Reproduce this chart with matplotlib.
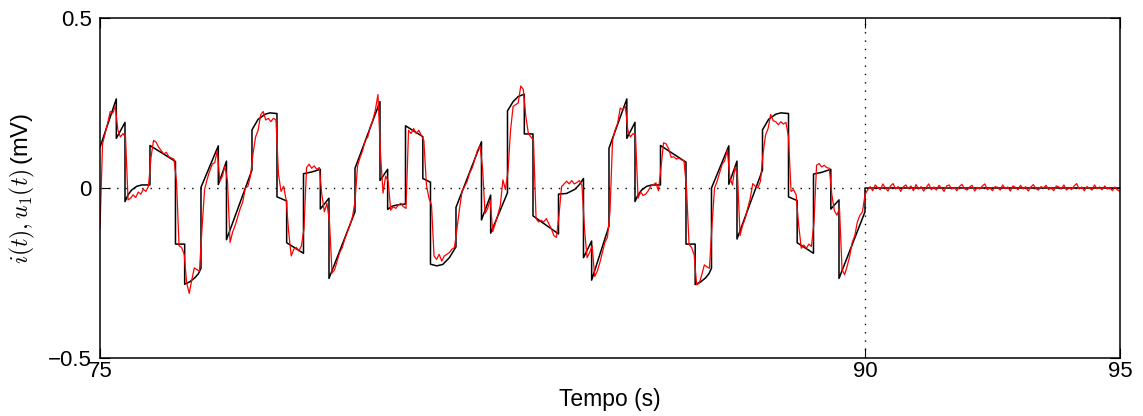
import numpy as np
import matplotlib
matplotlib.use('Agg')
import matplotlib.pyplot as plt

# u1(t): vertici della spezzata (tempo in s, valore in mV)
cmd_t = [75.00, 75.32, 75.32, 75.49, 75.49, 75.55, 75.62, 75.72, 75.82, 75.98,
         75.98, 76.48, 76.48, 76.66, 76.66, 76.76, 76.86, 76.93, 76.98, 76.98,
         77.32, 77.32, 77.48, 77.48, 77.98, 77.98, 78.10, 78.24, 78.33, 78.47,
         78.47, 78.66, 78.66, 78.99, 78.99, 79.15, 79.32, 79.32, 79.49, 79.49,
         80.00, 80.00, 80.49, 80.49, 80.64, 80.64, 80.72, 80.82, 80.99, 80.99,
         81.33, 81.33, 81.48, 81.48, 81.60, 81.72, 81.85, 81.98, 81.98, 82.48,
         82.48, 82.66, 82.66, 82.99, 82.99, 83.10, 83.20, 83.32, 83.32, 83.49,
         83.49, 83.99, 83.99, 84.15, 84.31, 84.40, 84.48, 84.48, 84.64, 84.64,
         84.98, 84.98, 85.33, 85.33, 85.49, 85.49, 85.55, 85.62, 85.72, 85.82,
         85.99, 85.99, 86.49, 86.49, 86.67, 86.67, 86.77, 86.87, 86.94, 86.99,
         86.99, 87.33, 87.33, 87.49, 87.49, 87.99, 87.99, 88.11, 88.25, 88.35,
         88.50, 88.50, 88.67, 88.67, 88.99, 88.99, 89.15, 89.33, 89.33, 89.49,
         89.49, 90.00, 90.00, 95.00]
cmd_v = [0.120, 0.262, 0.146, 0.193, -0.040, -0.020, -0.006, 0.005, 0.009, 0.009,
         0.125, 0.078, -0.165, -0.165, -0.283, -0.276, -0.264, -0.252, -0.236, 0.002,
         0.124, 0.010, 0.079, -0.152, 0.053, 0.171, 0.202, 0.217, 0.221, 0.219,
         -0.026, -0.038, -0.161, -0.192, 0.042, 0.047, 0.055, -0.062, -0.030, -0.266,
         -0.070, 0.058, 0.254, 0.022, 0.055, -0.063, -0.054, -0.050, -0.047, 0.183,
         0.151, 0.028, 0.017, -0.224, -0.229, -0.225, -0.205, -0.173, -0.057, 0.136,
         -0.094, -0.021, -0.133, -0.014, 0.227, 0.254, 0.269, 0.276, 0.159, 0.159,
         -0.082, -0.135, -0.018, -0.016, -0.004, 0.010, 0.028, -0.205, -0.156, -0.271,
         -0.112, 0.117, 0.262, 0.146, 0.193, -0.040, -0.020, -0.006, 0.005, 0.009,
         0.009, 0.125, 0.076, -0.165, -0.165, -0.284, -0.277, -0.265, -0.252, -0.236,
         0.000, 0.124, 0.011, 0.079, -0.150, 0.053, 0.171, 0.202, 0.217, 0.221,
         0.219, -0.026, -0.037, -0.161, -0.192, 0.041, 0.046, 0.055, -0.062, -0.035,
         -0.266, -0.070, 0.000, 0.000]

# i(t): campioni ogni 0.05 s a partire da 75 s
cur_start = 75.0
cur_step = 0.05
cur_v = [
    -0.120, 0.130, 0.160, 0.190, 0.225, 0.220, 0.240, 0.170, 0.150, 0.160,
    0.150, -0.035, -0.030, -0.020, -0.028, -0.012, -0.018, -0.004, -0.010, 0.005,
    0.090, 0.140, 0.135, 0.120, 0.110, 0.100, 0.105, 0.092, 0.088, 0.085,
    0.020, -0.170, -0.175, -0.195, -0.280, -0.310, -0.270, -0.235, -0.240, -0.245,
    -0.120, -0.005, 0.025, 0.050, 0.070, 0.075, 0.110, 0.020, 0.035, 0.065,
    0.020, -0.160, -0.130, -0.110, -0.085, -0.060, -0.040, 0.000, 0.005, 0.035,
    0.100, 0.150, 0.170, 0.215, 0.225, 0.200, 0.205, 0.195, 0.205, 0.200,
    0.040, -0.010, 0.005, -0.035, -0.130, -0.200, -0.180, -0.175, -0.185, -0.170,
    -0.120, 0.060, 0.070, 0.058, 0.065, 0.055, 0.060, -0.020, -0.070, -0.045,
    -0.100, -0.250, -0.240, -0.215, -0.190, -0.175, -0.150, -0.130, -0.110, -0.085,
    -0.040, 0.065, 0.090, 0.110, 0.140, 0.150, 0.180, 0.200, 0.230, 0.275,
    0.100, -0.015, 0.035, 0.020, -0.065, -0.055, -0.060, -0.050, -0.045, -0.055,
    -0.060, 0.170, 0.160, 0.175, 0.160, 0.170, 0.155, 0.140, 0.010, -0.030,
    -0.050, -0.200, -0.210, -0.195, -0.215, -0.200, -0.195, -0.190, -0.180, -0.175,
    -0.120, -0.060, -0.010, 0.005, 0.020, 0.045, 0.060, 0.085, 0.110, 0.125,
    0.060, -0.075, -0.060, -0.035, -0.128, -0.105, -0.080, -0.050, 0.024, -0.005,
    0.050, 0.170, 0.240, 0.245, 0.250, 0.300, 0.290, 0.210, 0.160, 0.150,
    0.140, -0.090, -0.100, -0.095, -0.100, -0.090, -0.105, -0.120, -0.140, -0.145,
    -0.080, 0.004, 0.012, 0.020, 0.012, 0.022, 0.012, 0.016, 0.022, 0.008,
    -0.120, -0.205, -0.190, -0.170, -0.260, -0.245, -0.220, -0.190, -0.160, -0.145,
    -0.070, 0.140, 0.170, 0.190, 0.235, 0.230, 0.240, 0.170, 0.150, 0.160,
    0.155, -0.030, -0.012, -0.022, -0.018, -0.008, 0.006, 0.010, 0.015, -0.008,
    0.060, 0.133, 0.130, 0.115, 0.090, 0.092, 0.085, 0.088, 0.083, 0.080,
    0.000, -0.166, -0.175, -0.197, -0.285, -0.280, -0.255, -0.226, -0.232, -0.236,
    -0.110, 0.000, 0.020, 0.045, 0.070, 0.080, 0.112, 0.030, 0.009, 0.060,
    0.040, -0.140, -0.110, -0.090, -0.060, -0.030, 0.013, 0.005, 0.000, 0.020,
    0.100, 0.156, 0.175, 0.216, 0.198, 0.195, 0.186, 0.195, 0.188, 0.193,
    0.150, -0.010, -0.005, -0.020, -0.110, -0.177, -0.168, -0.177, -0.165, -0.172,
    -0.100, 0.067, 0.072, 0.062, 0.067, 0.060, 0.058, -0.020, -0.067, -0.080,
    -0.060, -0.240, -0.255, -0.230, -0.200, -0.160, -0.140, -0.100, -0.080, -0.070,
    # da 90 s in poi: solo rumore
    -0.020, -0.006, 0.004, -0.008, 0.009, 0.001, -0.005, 0.012, 0.000, -0.009,
    0.006, 0.013, -0.003, 0.004, -0.010, 0.003, 0.009, -0.002, 0.006, -0.008,
    0.010, -0.003, 0.004, -0.009, 0.002, 0.012, -0.005, 0.003, -0.006, 0.008,
    0.000, -0.010, 0.006, 0.009, -0.003, 0.002, -0.008, 0.004, 0.011, -0.002,
    -0.006, 0.003, 0.008, -0.009, 0.002, -0.003, 0.006, 0.012, -0.005, 0.000,
    -0.008, 0.004, 0.002, -0.006, 0.009, -0.002, 0.003, -0.009, 0.006, 0.002,
    -0.005, 0.008, -0.003, 0.004, -0.009, 0.003, 0.010, -0.002, -0.006, 0.004,
    0.000, 0.008, -0.005, 0.002, -0.008, 0.006, 0.003, -0.003, 0.009, -0.006,
    0.002, -0.005, 0.006, 0.013, -0.003, 0.003, -0.008, 0.004, 0.000, -0.006,
    0.009, -0.002, 0.003, -0.005, 0.006, -0.003, 0.002, -0.008, 0.003, -0.006,
    -0.010]
cur_t = cur_start + cur_step * np.arange(len(cur_v))

x_ticks = [75, 90, 95]
y_ticks = [-0.5, 0, 0.5]
y_ticklabels = ['\u22120.5', '0', '0.5']
t_switch = 90

plt.rcParams['font.family'] = ['Liberation Sans', 'DejaVu Sans']
plt.rcParams['mathtext.fontset'] = 'cm'

fig = plt.figure(figsize=(11.43, 4.16), dpi=100)
ax = fig.add_axes([100 / 1143, 1 - 358 / 416, 1020 / 1143, 340 / 416])

ax.axhline(0, color='black', lw=1.0, ls=(0, (1, 5)))
ax.axvline(t_switch, color='black', lw=1.0, ls=(0, (1, 5)))

ax.plot(cmd_t, cmd_v, color='black', lw=1.1)
ax.plot(cur_t, cur_v, color='red', lw=0.9)

ax.set_xlim(75, 95)
ax.set_ylim(-0.5, 0.5)
ax.set_xticks(x_ticks)
ax.set_yticks(y_ticks)
ax.set_yticklabels(y_ticklabels)
ax.tick_params(direction='in', length=7, width=0.8, labelsize=16,
               top=True, right=True)
ax.tick_params(axis='x', pad=2)
ax.tick_params(axis='y', pad=6)
for s in ax.spines.values():
    s.set_linewidth(1.1)

ax.set_xlabel('Tempo (s)', fontsize=16.5)
ax.set_ylabel(r'$i(t), u_1(t)\,$(mV)', fontsize=17)
ax.xaxis.set_label_coords(0.5, -0.088)
ax.yaxis.set_label_coords(-0.062, 0.5)

fig.savefig('out.png', dpi=100)
